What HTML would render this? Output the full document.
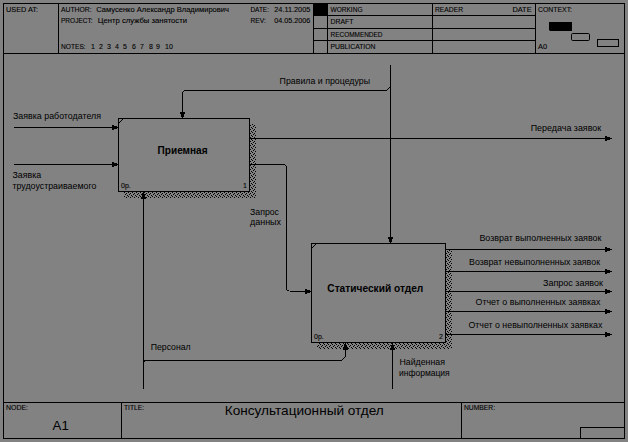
<!DOCTYPE html>
<html><head><meta charset="utf-8"><style>
html,body{margin:0;padding:0;background:#828282;}
body{width:628px;height:442px;overflow:hidden;}
svg{display:block;}
text{font-family:"Liberation Sans", sans-serif;}
</style></head><body>
<svg width="628" height="442" viewBox="0 0 628 442">
<defs><pattern id="hatch" patternUnits="userSpaceOnUse" x="0" y="0" width="4" height="4">
<rect x="0" y="0" width="1" height="1" fill="#000"/><rect x="2" y="1" width="1" height="1" fill="#000"/><rect x="1" y="2" width="1" height="1" fill="#000"/><rect x="3" y="3" width="1" height="1" fill="#000"/>
</pattern></defs>
<rect x="0" y="0" width="628" height="442" fill="#828282"/>
<g fill="#000" shape-rendering="crispEdges">
<rect x="3" y="3" width="622" height="1"/>
<rect x="3" y="438" width="622" height="1"/>
<rect x="3" y="3" width="1" height="436"/>
<rect x="624" y="3" width="1" height="436"/>
<rect x="3" y="53" width="622" height="1"/>
<rect x="58" y="3" width="1" height="51"/>
<rect x="313" y="3" width="1" height="51"/>
<rect x="327" y="3" width="1" height="51"/>
<rect x="432" y="3" width="1" height="51"/>
<rect x="535" y="3" width="1" height="51"/>
<rect x="313" y="15" width="223" height="1"/>
<rect x="313" y="28" width="223" height="1"/>
<rect x="313" y="40" width="223" height="1"/>
<rect x="313" y="3" width="15" height="13" fill="#000"/>
<rect x="3" y="402" width="622" height="1"/>
<rect x="121" y="402" width="1" height="37"/>
<rect x="461" y="402" width="1" height="37"/>
<rect x="580" y="427" width="45" height="1"/>
<rect x="580" y="427" width="1" height="12"/>
<rect x="118" y="118" width="132" height="1"/>
<rect x="118" y="191" width="132" height="1"/>
<rect x="118" y="118" width="1" height="74"/>
<rect x="249" y="118" width="1" height="74"/>
<rect x="311" y="243" width="135" height="1"/>
<rect x="311" y="342" width="135" height="1"/>
<rect x="311" y="243" width="1" height="100"/>
<rect x="445" y="243" width="1" height="100"/>
<rect x="14" y="127" width="104" height="1"/>
<rect x="112" y="125" width="2" height="5" fill="#000"/>
<rect x="114" y="126" width="3" height="3" fill="#000"/>
<rect x="14" y="164" width="104" height="1"/>
<rect x="112" y="162" width="2" height="5" fill="#000"/>
<rect x="114" y="163" width="3" height="3" fill="#000"/>
<rect x="390" y="65" width="1" height="178"/>
<rect x="388" y="237" width="5" height="2" fill="#000"/>
<rect x="389" y="239" width="3" height="3" fill="#000"/>
<rect x="184" y="90" width="203" height="1"/>
<rect x="183" y="91" width="1" height="1" fill="#000"/>
<rect x="182" y="92" width="1" height="26"/>
<rect x="180" y="112" width="5" height="2" fill="#000"/>
<rect x="181" y="114" width="3" height="3" fill="#000"/>
<rect x="250" y="138" width="362" height="1"/>
<rect x="605" y="136" width="2" height="5" fill="#000"/>
<rect x="607" y="137" width="3" height="3" fill="#000"/>
<rect x="250" y="164" width="35" height="1"/>
<rect x="285" y="165" width="1" height="1" fill="#000"/>
<rect x="286" y="166" width="1" height="124"/>
<rect x="287" y="290" width="2" height="1" fill="#000"/>
<rect x="290" y="291" width="21" height="1"/>
<rect x="305" y="289" width="2" height="5" fill="#000"/>
<rect x="307" y="290" width="3" height="3" fill="#000"/>
<rect x="446" y="249" width="166" height="1"/>
<rect x="605" y="247" width="2" height="5" fill="#000"/>
<rect x="607" y="248" width="3" height="3" fill="#000"/>
<rect x="446" y="271" width="166" height="1"/>
<rect x="605" y="269" width="2" height="5" fill="#000"/>
<rect x="607" y="270" width="3" height="3" fill="#000"/>
<rect x="446" y="291" width="166" height="1"/>
<rect x="605" y="289" width="2" height="5" fill="#000"/>
<rect x="607" y="290" width="3" height="3" fill="#000"/>
<rect x="446" y="311" width="166" height="1"/>
<rect x="605" y="309" width="2" height="5" fill="#000"/>
<rect x="607" y="310" width="3" height="3" fill="#000"/>
<rect x="446" y="334" width="166" height="1"/>
<rect x="605" y="332" width="2" height="5" fill="#000"/>
<rect x="607" y="333" width="3" height="3" fill="#000"/>
<rect x="143" y="192" width="1" height="197"/>
<rect x="141" y="197" width="5" height="2" fill="#000"/>
<rect x="142" y="194" width="3" height="3" fill="#000"/>
<rect x="144" y="360" width="198" height="1"/>
<rect x="144" y="361" width="1" height="1" fill="#000"/>
<rect x="345" y="343" width="1" height="14"/>
<rect x="343" y="348" width="5" height="2" fill="#000"/>
<rect x="344" y="345" width="3" height="3" fill="#000"/>
<rect x="392" y="343" width="1" height="46"/>
<rect x="390" y="348" width="5" height="2" fill="#000"/>
<rect x="391" y="345" width="3" height="3" fill="#000"/>
</g>
<g>
<path d="M549 22 H572 V31 H550 L549 30 Z" fill="#000"/>
<rect x="571.5" y="33.5" width="18" height="7" rx="1.2" fill="none" stroke="#000" stroke-width="1"/>
<rect x="597.5" y="39.5" width="21" height="7" fill="none" stroke="#000" stroke-width="1"/>
<path d="M250 124 H256 V198 H124 V192 H250 Z" fill="url(#hatch)"/>
<path d="M446 249 H452 V349 H317 V343 H446 Z" fill="url(#hatch)"/>
<path d="M123.5 118.5 L118.5 123.5" stroke="#000" stroke-width="1"/>
<path d="M316.5 243.5 L311.5 248.5" stroke="#000" stroke-width="1"/>
<path d="M386.5 90.5 L390.5 86.5" stroke="#000" stroke-width="1" fill="none"/>
<path d="M341.5 360.5 L345.5 356.5" stroke="#000" stroke-width="1" fill="none"/>
</g>
<g font-family="Liberation Sans, sans-serif" fill="#000" stroke="#000" stroke-width="0">
<text x="6" y="12" font-size="7" stroke-width="0.1" textLength="32" lengthAdjust="spacingAndGlyphs">USED AT:</text>
<text x="61" y="12" font-size="7" stroke-width="0.1" textLength="30.6" lengthAdjust="spacingAndGlyphs">AUTHOR:</text>
<text x="96.2" y="12" font-size="7" stroke-width="0.1" textLength="132.8" lengthAdjust="spacingAndGlyphs">Самусенко Александр Владимирович</text>
<text x="61" y="22.5" font-size="7" stroke-width="0.1" textLength="31.7" lengthAdjust="spacingAndGlyphs">PROJECT:</text>
<text x="97.8" y="22.5" font-size="7" stroke-width="0.1" textLength="89.2" lengthAdjust="spacingAndGlyphs">Центр службы занятости</text>
<text x="61" y="49" font-size="7" stroke-width="0.1" textLength="24.7" lengthAdjust="spacingAndGlyphs">NOTES:</text>
<text x="91" y="49" font-size="7" stroke-width="0.1">1</text>
<text x="99" y="49" font-size="7" stroke-width="0.1">2</text>
<text x="107" y="49" font-size="7" stroke-width="0.1">3</text>
<text x="115" y="49" font-size="7" stroke-width="0.1">4</text>
<text x="123" y="49" font-size="7" stroke-width="0.1">5</text>
<text x="132" y="49" font-size="7" stroke-width="0.1">6</text>
<text x="140" y="49" font-size="7" stroke-width="0.1">7</text>
<text x="149" y="49" font-size="7" stroke-width="0.1">8</text>
<text x="156" y="49" font-size="7" stroke-width="0.1">9</text>
<text x="165" y="49" font-size="7" stroke-width="0.1">10</text>
<text x="250.4" y="12" font-size="7" stroke-width="0.1" textLength="18.6" lengthAdjust="spacingAndGlyphs">DATE:</text>
<text x="274.3" y="12" font-size="7" stroke-width="0.1" textLength="36" lengthAdjust="spacingAndGlyphs">24.11.2005</text>
<text x="250.4" y="22.5" font-size="7" stroke-width="0.1" textLength="15.4" lengthAdjust="spacingAndGlyphs">REV:</text>
<text x="274.3" y="22.5" font-size="7" stroke-width="0.1" textLength="36" lengthAdjust="spacingAndGlyphs">04.05.2006</text>
<text x="330.5" y="12" font-size="7" stroke-width="0.1" textLength="32" lengthAdjust="spacingAndGlyphs">WORKING</text>
<text x="330.5" y="24.3" font-size="7" stroke-width="0.1" textLength="23" lengthAdjust="spacingAndGlyphs">DRAFT</text>
<text x="330.5" y="37" font-size="7" stroke-width="0.1" textLength="52" lengthAdjust="spacingAndGlyphs">RECOMMENDED</text>
<text x="330.5" y="49" font-size="7" stroke-width="0.1" textLength="45" lengthAdjust="spacingAndGlyphs">PUBLICATION</text>
<text x="435" y="12" font-size="7" stroke-width="0.1" textLength="28" lengthAdjust="spacingAndGlyphs">READER</text>
<text x="512.4" y="12" font-size="7" stroke-width="0.1" textLength="19.2" lengthAdjust="spacingAndGlyphs">DATE</text>
<text x="538" y="12" font-size="7" stroke-width="0.1" textLength="34" lengthAdjust="spacingAndGlyphs">CONTEXT:</text>
<text x="538" y="49" font-size="7" stroke-width="0.1" textLength="9" lengthAdjust="spacingAndGlyphs">A0</text>
<text x="6" y="410" font-size="7" stroke-width="0.1" textLength="22" lengthAdjust="spacingAndGlyphs">NODE:</text>
<text x="52.6" y="430.1" font-size="13.2" stroke-width="0">A1</text>
<text x="124" y="410" font-size="7" stroke-width="0.1" textLength="20" lengthAdjust="spacingAndGlyphs">TITLE:</text>
<text x="224.8" y="414.6" font-size="13.5" stroke-width="0" textLength="159" lengthAdjust="spacingAndGlyphs">Консультационный отдел</text>
<text x="464" y="410" font-size="7" stroke-width="0.1" textLength="31" lengthAdjust="spacingAndGlyphs">NUMBER:</text>
<text x="13" y="119" font-size="8.85" stroke-width="0" textLength="88" lengthAdjust="spacingAndGlyphs">Заявка работодателя</text>
<text x="12.4" y="178" font-size="8.85" stroke-width="0">Заявка</text>
<text x="12.4" y="189" font-size="8.85" stroke-width="0" textLength="84" lengthAdjust="spacingAndGlyphs">трудоустраиваемого</text>
<text x="279.6" y="84" font-size="8.85" stroke-width="0" textLength="90.4" lengthAdjust="spacingAndGlyphs">Правила и процедуры</text>
<text x="530.7" y="131" font-size="8.85" stroke-width="0" textLength="70.5" lengthAdjust="spacingAndGlyphs">Передача заявок</text>
<text x="250" y="215" font-size="8.85" stroke-width="0" textLength="29" lengthAdjust="spacingAndGlyphs">Запрос</text>
<text x="250" y="225" font-size="8.85" stroke-width="0" textLength="31" lengthAdjust="spacingAndGlyphs">данных</text>
<text x="150.7" y="350" font-size="8.85" stroke-width="0" textLength="40" lengthAdjust="spacingAndGlyphs">Персонал</text>
<text x="399.4" y="365" font-size="8.85" stroke-width="0" textLength="45.6" lengthAdjust="spacingAndGlyphs">Найденная</text>
<text x="399" y="376" font-size="8.85" stroke-width="0" textLength="50.7" lengthAdjust="spacingAndGlyphs">информация</text>
<text x="479.4" y="241" font-size="8.85" stroke-width="0" textLength="122" lengthAdjust="spacingAndGlyphs">Возврат выполненных заявок</text>
<text x="469" y="265" font-size="8.85" stroke-width="0" textLength="131" lengthAdjust="spacingAndGlyphs">Возврат невыполненных заявок</text>
<text x="543" y="286" font-size="8.85" stroke-width="0" textLength="60" lengthAdjust="spacingAndGlyphs">Запрос заявок</text>
<text x="475.5" y="305" font-size="8.85" stroke-width="0" textLength="125" lengthAdjust="spacingAndGlyphs">Отчет о выполненных заявках</text>
<text x="468.4" y="328" font-size="8.85" stroke-width="0" textLength="134" lengthAdjust="spacingAndGlyphs">Отчет о невыполненных заявках</text>
<text x="157.6" y="153.8" font-size="10.1" font-weight="bold" stroke-width="0" textLength="50" lengthAdjust="spacingAndGlyphs">Приемная</text>
<text x="327.3" y="291.5" font-size="10.1" font-weight="bold" stroke-width="0" textLength="96" lengthAdjust="spacingAndGlyphs">Статический отдел</text>
<text x="121" y="188" font-size="7" stroke-width="0.1">0р.</text>
<text x="243" y="188" font-size="7" stroke-width="0.1">1</text>
<text x="314" y="339" font-size="7" stroke-width="0.1">0р.</text>
<text x="439" y="339" font-size="7" stroke-width="0.1">2</text>
</g>
</svg>
</body></html>
